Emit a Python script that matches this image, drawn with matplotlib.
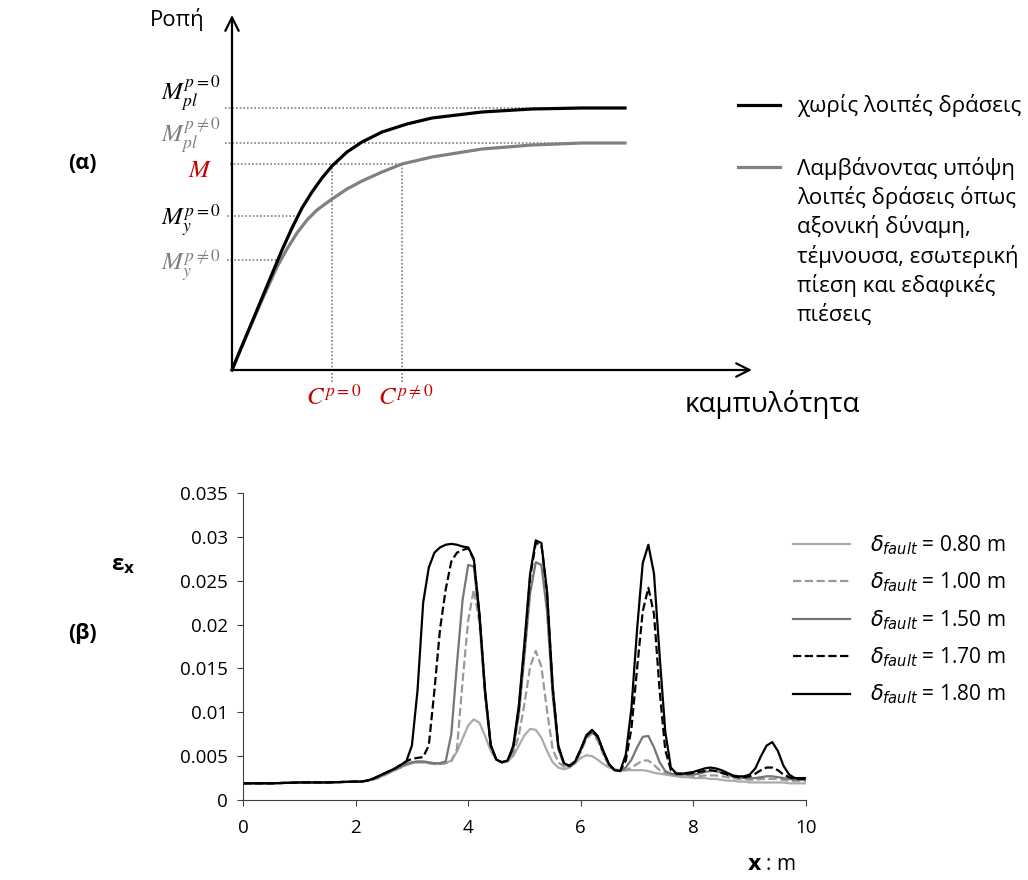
import numpy as np
import matplotlib.pyplot as plt
from matplotlib.lines import Line2D

plt.rcParams['font.family'] = ['Open Sans', 'DejaVu Sans']

# ---------------- (α) moment - curvature sketch ----------------
c_free = [0, 0.10, 0.20, 0.30, 0.40, 0.50, 0.60, 0.70, 0.80, 0.90, 1.00, 1.15, 1.30, 1.50, 1.75, 2.00, 2.50, 3.00, 3.50, 3.93]
m_free = [0, 0.24, 0.48, 0.72, 0.96, 1.20, 1.42, 1.62, 1.78, 1.92, 2.04, 2.18, 2.28, 2.38, 2.46, 2.52, 2.58, 2.61, 2.62, 2.62]
c_load = [0, 0.10, 0.20, 0.30, 0.35, 0.45, 0.55, 0.65, 0.75, 0.85, 1.00, 1.15, 1.30, 1.50, 1.70, 2.00, 2.50, 3.00, 3.50, 3.93]
m_load = [0, 0.24, 0.47, 0.70, 0.81, 1.03, 1.21, 1.37, 1.50, 1.60, 1.71, 1.81, 1.89, 1.98, 2.06, 2.13, 2.21, 2.25, 2.27, 2.27]

m_pl0, m_pl1, m_work, m_y0, m_y1 = 2.62, 2.27, 2.06, 1.54, 1.10
c_0, c_1 = 1.00, 1.70

legend_a = ['χωρίς λοιπές δράσεις',
            'Λαμβάνοντας υπόψη', 'λοιπές δράσεις όπως', 'αξονική δύναμη,',
            'τέμνουσα, εσωτερική', 'πίεση και εδαφικές', 'πιέσεις']

# ---------------- (β) strain along x ----------------
x = [0, 0.5, 1.0, 1.5,
     2.0, 2.1, 2.2, 2.3, 2.4, 2.5, 2.6, 2.7, 2.8, 2.9,
     3.0, 3.1, 3.2, 3.3, 3.4, 3.5, 3.6, 3.7, 3.8, 3.9,
     4.0, 4.1, 4.2, 4.3, 4.4, 4.5, 4.6, 4.7, 4.8, 4.9,
     5.0, 5.1, 5.2, 5.3, 5.4, 5.5, 5.6, 5.7, 5.8, 5.9,
     6.0, 6.1, 6.2, 6.3, 6.4, 6.5, 6.6, 6.7, 6.8, 6.9,
     7.0, 7.1, 7.2, 7.3, 7.4, 7.5, 7.6, 7.7, 7.8, 7.9,
     8.0, 8.1, 8.2, 8.3, 8.4, 8.5, 8.6, 8.7, 8.8, 8.9,
     9.0, 9.1, 9.2, 9.3, 9.4, 9.5, 9.6, 9.7, 9.8, 9.9,
     10.0]

d080 = [0.0019, 0.0019, 0.0020, 0.0020,
        0.0021, 0.0021, 0.0022, 0.0023, 0.0025, 0.0028, 0.0031, 0.0034, 0.0037, 0.0040,
        0.0042, 0.0043, 0.0043, 0.0042, 0.0041, 0.0041, 0.0042, 0.0045, 0.0055, 0.0070,
        0.0085, 0.0092, 0.0088, 0.0073, 0.0056, 0.0046, 0.0043, 0.0044, 0.0050, 0.0062,
        0.0074, 0.0081, 0.0080, 0.0071, 0.0056, 0.0043, 0.0037, 0.0035, 0.0037, 0.0042,
        0.0048, 0.0051, 0.0050, 0.0046, 0.0041, 0.0037, 0.0035, 0.0034, 0.0034, 0.0034,
        0.0034, 0.0034, 0.0033, 0.0031, 0.0030, 0.0029, 0.0028, 0.0027, 0.0026, 0.0026,
        0.0025, 0.0025, 0.0025, 0.0024, 0.0024, 0.0023, 0.0022, 0.0022, 0.0021, 0.0021,
        0.0020, 0.0020, 0.0020, 0.0020, 0.0020, 0.0020, 0.0020, 0.0019, 0.0019, 0.0019,
        0.0019]

d100 = [0.0019, 0.0019, 0.0020, 0.0020,
        0.0021, 0.0021, 0.0022, 0.0023, 0.0025, 0.0028, 0.0031, 0.0034, 0.0037, 0.0040,
        0.0042, 0.0043, 0.0043, 0.0042, 0.0041, 0.0041, 0.0042, 0.0044, 0.0058, 0.0135,
        0.0205, 0.0240, 0.0202, 0.0120, 0.0061, 0.0046, 0.0043, 0.0044, 0.0052, 0.0074,
        0.0110, 0.0152, 0.0170, 0.0152, 0.0102, 0.0058, 0.0043, 0.0038, 0.0038, 0.0042,
        0.0055, 0.0070, 0.0076, 0.0068, 0.0052, 0.0039, 0.0034, 0.0033, 0.0034, 0.0037,
        0.0041, 0.0045, 0.0045, 0.0040, 0.0034, 0.0031, 0.0030, 0.0029, 0.0028, 0.0028,
        0.0027, 0.0027, 0.0028, 0.0028, 0.0028, 0.0027, 0.0026, 0.0025, 0.0024, 0.0024,
        0.0023, 0.0023, 0.0024, 0.0024, 0.0024, 0.0024, 0.0023, 0.0022, 0.0022, 0.0022,
        0.0022]

d150 = [0.0019, 0.0019, 0.0020, 0.0020,
        0.0021, 0.0021, 0.0022, 0.0024, 0.0026, 0.0029, 0.0032, 0.0035, 0.0038, 0.0041,
        0.0043, 0.0044, 0.0044, 0.0043, 0.0042, 0.0042, 0.0044, 0.0075, 0.0155, 0.0228,
        0.0268, 0.0266, 0.0208, 0.0122, 0.0062, 0.0046, 0.0043, 0.0045, 0.0058, 0.0098,
        0.0165, 0.0236, 0.0271, 0.0268, 0.0215, 0.0120, 0.0058, 0.0041, 0.0038, 0.0043,
        0.0057, 0.0072, 0.0078, 0.0071, 0.0054, 0.0040, 0.0034, 0.0033, 0.0037, 0.0046,
        0.0060, 0.0072, 0.0073, 0.0060, 0.0043, 0.0033, 0.0030, 0.0029, 0.0029, 0.0029,
        0.0029, 0.0030, 0.0032, 0.0033, 0.0033, 0.0031, 0.0029, 0.0027, 0.0026, 0.0025,
        0.0025, 0.0025, 0.0026, 0.0027, 0.0027, 0.0026, 0.0025, 0.0024, 0.0023, 0.0023,
        0.0023]

d170 = [0.0019, 0.0019, 0.0020, 0.0020,
        0.0021, 0.0021, 0.0022, 0.0024, 0.0027, 0.0030, 0.0033, 0.0036, 0.0040, 0.0044,
        0.0047, 0.0048, 0.0049, 0.0062, 0.0125, 0.0195, 0.0240, 0.0272, 0.0282, 0.0285,
        0.0287, 0.0274, 0.0210, 0.0123, 0.0062, 0.0046, 0.0043, 0.0045, 0.0060, 0.0104,
        0.0175, 0.0254, 0.0293, 0.0291, 0.0236, 0.0128, 0.0061, 0.0042, 0.0039, 0.0044,
        0.0058, 0.0073, 0.0079, 0.0072, 0.0055, 0.0041, 0.0034, 0.0033, 0.0045, 0.0082,
        0.0150, 0.0215, 0.0242, 0.0212, 0.0125, 0.0057, 0.0034, 0.0030, 0.0030, 0.0030,
        0.0031, 0.0032, 0.0033, 0.0034, 0.0033, 0.0031, 0.0029, 0.0027, 0.0026, 0.0026,
        0.0027, 0.0030, 0.0034, 0.0037, 0.0037, 0.0034, 0.0029, 0.0026, 0.0024, 0.0024,
        0.0024]

d180 = [0.0019, 0.0019, 0.0020, 0.0020,
        0.0021, 0.0021, 0.0022, 0.0024, 0.0027, 0.0030, 0.0033, 0.0036, 0.0040, 0.0044,
        0.0062, 0.0125, 0.0225, 0.0265, 0.0282, 0.0288, 0.0291, 0.0292, 0.0291, 0.0289,
        0.0288, 0.0275, 0.0212, 0.0125, 0.0063, 0.0046, 0.0043, 0.0045, 0.0062, 0.0108,
        0.0180, 0.0258, 0.0296, 0.0293, 0.0238, 0.0130, 0.0062, 0.0042, 0.0039, 0.0044,
        0.0058, 0.0074, 0.0080, 0.0073, 0.0056, 0.0041, 0.0034, 0.0033, 0.0052, 0.0105,
        0.0195, 0.0270, 0.0291, 0.0258, 0.0165, 0.0078, 0.0037, 0.0030, 0.0030, 0.0031,
        0.0032, 0.0034, 0.0036, 0.0037, 0.0036, 0.0034, 0.0031, 0.0028, 0.0027, 0.0027,
        0.0029, 0.0036, 0.0050, 0.0062, 0.0066, 0.0056, 0.0039, 0.0029, 0.0025, 0.0025,
        0.0025]

series = [d080, d100, d150, d170, d180]
labels = ['0.80', '1.00', '1.50', '1.70', '1.80']
colors = ['#ababab', '#999999', '#767676', 'black', 'black']
styles = ['-', '--', '-', '--', '-']

xticks = [0, 2, 4, 6, 8, 10]
yticks = [0, 0.005, 0.01, 0.015, 0.02, 0.025, 0.03, 0.035]
ytick_labels = ['0', '0.005', '0.01', '0.015', '0.02', '0.025', '0.03', '0.035']

W, H = 1028, 880
fig = plt.figure(figsize=(W / 100, H / 100), dpi=100)

# ---- top sketch
ax1 = fig.add_axes([222 / W, 1 - 385 / H, 540 / W, 375 / H])
ax1.set_xlim(-0.1, 5.3)
ax1.set_ylim(-0.15, 3.6)
ax1.axis('off')

dot = dict(color='#7f7f7f', lw=1.2, ls=(0, (1, 1.2)), zorder=1)
ax1.plot([-0.07, c_free[-1]], [m_pl0, m_pl0], **dot)
ax1.plot([-0.07, c_load[-1]], [m_pl1, m_pl1], **dot)
ax1.plot([-0.02, c_1], [m_work, m_work], **dot)
ax1.plot([-0.05, 0.63], [m_y0, m_y0], **dot)
ax1.plot([-0.05, 0.47], [m_y1, m_y1], **dot)
ax1.plot([c_0, c_0], [-0.12, m_work], **dot)
ax1.plot([c_1, c_1], [-0.12, m_work], **dot)

ax1.plot(c_load, m_load, color='#808080', lw=2.3, zorder=3, solid_joinstyle='round')
ax1.plot(c_free, m_free, color='black', lw=2.3, zorder=4, solid_joinstyle='round')

arr = dict(arrowstyle='->', lw=1.6, color='black', mutation_scale=24, shrinkA=0, shrinkB=0)
ax1.annotate('', xy=(0, 3.55), xytext=(0, 0), arrowprops=arr)
ax1.annotate('', xy=(5.20, 0), xytext=(0, 0), arrowprops=arr)

mt = dict(math_fontfamily='stix', fontsize=18, va='baseline', ha='right')
ax1.text(-0.11, 2.70, r'$M_{pl}^{p=0}$', color='black', **mt)
ax1.text(-0.11, 2.28, r'$M_{pl}^{p\neq0}$', color='#7f7f7f', **mt)
ax1.text(-0.20, 1.93, r'$M$', color='#c00000', **mt)
ax1.text(-0.11, 1.45, r'$M_{y}^{p=0}$', color='black', **mt)
ax1.text(-0.11, 1.00, r'$M_{y}^{p\neq0}$', color='#7f7f7f', **mt)
ax1.text(0.74, -0.35, r'$C^{p=0}$', color='#c00000', math_fontfamily='stix', fontsize=18, va='baseline')
ax1.text(1.46, -0.35, r'$C^{p\neq0}$', color='#c00000', math_fontfamily='stix', fontsize=18, va='baseline')
ax1.text(-0.27, 3.44, 'Ροπή', fontsize=16, ha='right', va='baseline')
ax1.text(4.53, -0.42, 'καμπυλότητα', fontsize=20, va='baseline')

# legend of the sketch
fig.add_artist(Line2D([738 / W, 780 / W], [1 - 105 / H] * 2, color='black', lw=2.3))
fig.add_artist(Line2D([738 / W, 780 / W], [1 - 167 / H] * 2, color='#808080', lw=2.3))
fig.text(797 / W, 1 - 105 / H, legend_a[0], fontsize=16, va='center')
for i, t in enumerate(legend_a[1:]):
    fig.text(797 / W, 1 - (168 + i * 29.4) / H, t, fontsize=16, va='center')

fig.text(82 / W, 1 - 163 / H, '(α)', fontsize=15.5, fontweight='bold', ha='center', va='center')
fig.text(82 / W, 1 - 633 / H, '(β)', fontsize=15.5, fontweight='bold', ha='center', va='center')

# ---- bottom chart
ax2 = fig.add_axes([243 / W, 80 / H, 563 / W, 307 / H])
for y, lab, col, ls in zip(series, labels, colors, styles):
    ax2.plot(x, y, color=col, ls=ls, lw=1.6, label=r'$\delta_{fault}$ = ' + lab + ' m',
             solid_joinstyle='round')

ax2.set_xlim(0, 10)
ax2.set_ylim(0, 0.035)
ax2.set_xticks(xticks)
ax2.set_xticklabels([str(v) for v in xticks])
ax2.set_yticks(yticks)
ax2.set_yticklabels(ytick_labels)
ax2.spines['top'].set_visible(False)
ax2.spines['right'].set_visible(False)
ax2.spines['left'].set_color('#404040')
ax2.spines['bottom'].set_color('#404040')
ax2.tick_params(direction='out', length=4, width=0.8, color='#404040', labelsize=13.5)
ax2.tick_params(axis='y', pad=7)
ax2.tick_params(axis='x', pad=10)

ax2.legend(loc='upper left', bbox_to_anchor=(783 / W, 1 - 523 / H), bbox_transform=fig.transFigure,
           frameon=False, handlelength=2.7, handletextpad=1.0,
           labelspacing=0.66, borderpad=0, prop={'math_fontfamily': 'dejavusans', 'size': 15})

fig.text(123 / W, 1 - 565 / H, r'ε$_\mathbf{x}$', fontsize=16, fontweight='bold',
         ha='center', va='center', math_fontfamily='dejavusans')
fig.text(772 / W, 1 - 864 / H, r'$\mathbf{x}$ : m', fontsize=15, ha='center', va='center',
         math_fontfamily='dejavusans')

fig.savefig('out.png', dpi=100)
